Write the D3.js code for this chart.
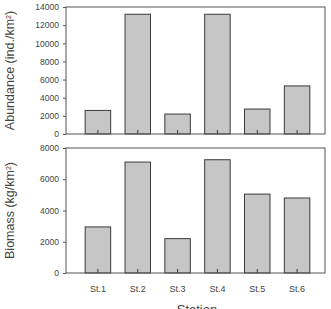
<!DOCTYPE html>
<html>
<head>
<meta charset="utf-8">
<script src="https://cdn.jsdelivr.net/npm/d3@7"></script>
<style>
  body { margin: 0; background: #fff; }
  svg { display: block; font-family: "Liberation Sans", Arial, sans-serif; }
</style>
</head>
<body>
<svg id="chart" width="331" height="309"></svg>
<script>
'use strict';
// stations and values
const stations = ['St.1', 'St.2', 'St.3', 'St.4', 'St.5', 'St.6'];
const abundance = [2600, 13200, 2200, 13200, 2750, 5300];
const biomass = [2950, 7100, 2200, 7250, 5050, 4800];
const abundanceTicks = [0, 2000, 4000, 6000, 8000, 10000, 12000, 14000];
const biomassTicks = [0, 2000, 4000, 6000, 8000];

const svg = d3.select('#chart');
const left = 66, right = 325;

const x = d3.scaleBand()
  .domain(stations)
  .range([78, 317])
  .paddingInner(0.36)
  .paddingOuter(0.18);

// one panel: frame, y ticks, bars, inner x ticks
function panel(values, ticks, maxV, top, bottom, label) {
  const y = d3.scaleLinear().domain([0, maxV]).range([bottom, top]);
  const g = svg.append('g');

  g.selectAll('.bar')
    .data(values)
    .join('rect')
    .attr('class', 'bar')
    .attr('x', (d, i) => x(stations[i]))
    .attr('y', (d) => y(d))
    .attr('width', x.bandwidth())
    .attr('height', (d) => bottom - y(d))
    .attr('fill', '#c6c6c6')
    .attr('stroke', '#3a3a3a')
    .attr('stroke-width', 1);

  // small ticks pointing up from the base at each bar centre
  g.selectAll('.xt')
    .data(stations)
    .join('line')
    .attr('x1', (d) => x(d) + x.bandwidth() / 2)
    .attr('x2', (d) => x(d) + x.bandwidth() / 2)
    .attr('y1', bottom)
    .attr('y2', bottom - 4)
    .attr('stroke', '#3a3a3a');

  // frame
  g.append('rect')
    .attr('x', left).attr('y', top)
    .attr('width', right - left).attr('height', bottom - top)
    .attr('fill', 'none')
    .attr('stroke', '#555')
    .attr('stroke-width', 1);

  const ax = g.append('g')
    .attr('transform', `translate(${left},0)`)
    .call(d3.axisLeft(y).tickValues(ticks).tickSize(3).tickPadding(4).tickFormat(d3.format('d')));
  ax.select('.domain').remove();
  ax.selectAll('line').attr('stroke', '#555');
  ax.selectAll('text').attr('fill', '#444').attr('font-size', 8.5)
    .attr('font-family', '"Liberation Sans", Arial, sans-serif');

  g.append('text')
    .attr('transform', `translate(14,${(top + bottom) / 2}) rotate(-90)`)
    .attr('text-anchor', 'middle')
    .attr('font-size', 12.5)
    .attr('fill', '#444')
    .html(label);
  return y;
}

panel(abundance, abundanceTicks, 14000, 7, 134,
  'Abundance (ind./km<tspan baseline-shift="super" font-size="7">2</tspan>)');
panel(biomass, biomassTicks, 8000, 148, 273,
  'Biomass (kg/km<tspan baseline-shift="super" font-size="7">2</tspan>)');

// station labels under the lower panel
svg.append('g')
  .selectAll('text')
  .data(stations)
  .join('text')
  .attr('x', (d) => x(d) + x.bandwidth() / 2)
  .attr('y', 292)
  .attr('text-anchor', 'middle')
  .attr('font-size', 9)
  .attr('fill', '#444')
  .text((d) => d);

// axis title sits partly below the bottom edge, as in the source
svg.append('text')
  .attr('x', 197)
  .attr('y', 314)
  .attr('text-anchor', 'middle')
  .attr('font-size', 13)
  .attr('fill', '#444')
  .text('Station');
</script>
</body>
</html>
